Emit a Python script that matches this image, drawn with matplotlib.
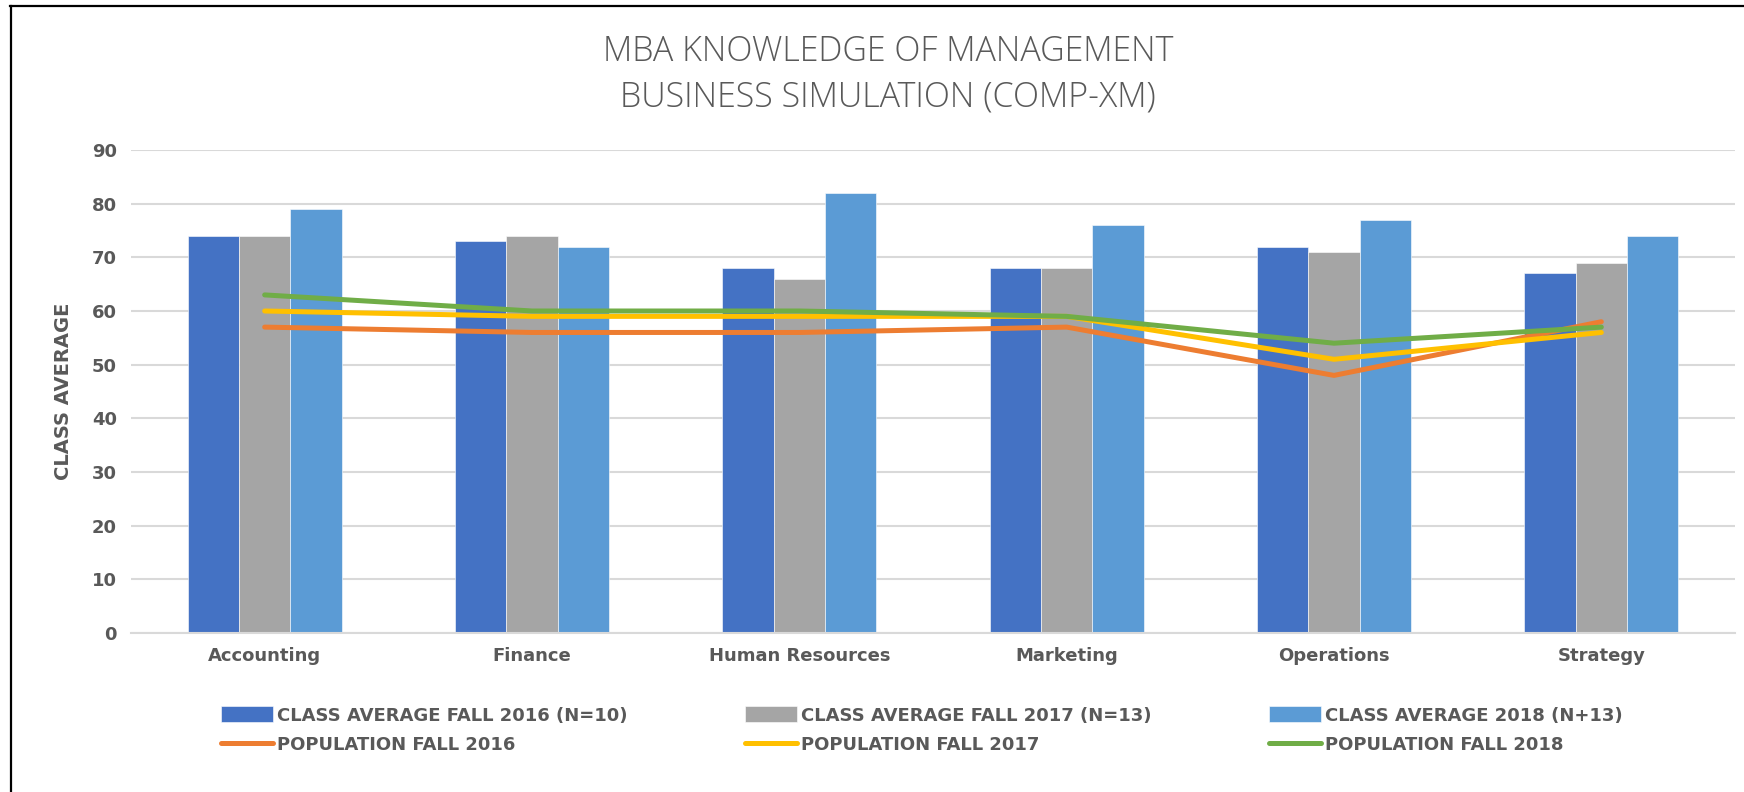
import matplotlib
matplotlib.use("Agg")
import matplotlib.pyplot as plt
import numpy as np
from matplotlib.lines import Line2D

categories = ["Accounting", "Finance", "Human Resources", "Marketing", "Operations", "Strategy"]
class_2016 = [74, 73, 68, 68, 72, 67]
class_2017 = [74, 74, 66, 68, 71, 69]
class_2018 = [79, 72, 82, 76, 77, 74]
pop_2016 = [57, 56, 56, 57, 48, 58]
pop_2017 = [60, 59, 59, 59, 51, 56]
pop_2018 = [63, 60, 60, 59, 54, 57]
yticks = [0, 10, 20, 30, 40, 50, 60, 70, 80, 90]

bar_labels = ["CLASS AVERAGE FALL 2016 (N=10)", "CLASS AVERAGE FALL 2017 (N=13)", "CLASS AVERAGE 2018 (N+13)"]
line_labels = ["POPULATION FALL 2016", "POPULATION FALL 2017", "POPULATION FALL 2018"]

TXT = "#595959"
W, H = 1744, 792
fig = plt.figure(figsize=(W / 100, H / 100), dpi=100)
ax = fig.add_axes([131 / W, 1 - 633 / H, (1735 - 131) / W, (633 - 150) / H])

x = np.arange(len(categories))
w = 0.192
bar_colors = ["#4472C4", "#A5A5A5", "#5B9BD5"]
bars = []
for i, (vals, c, lab) in enumerate(zip([class_2016, class_2017, class_2018], bar_colors, bar_labels)):
    b = ax.bar(x + (i - 1) * w, vals, width=w, color=c, edgecolor="white", linewidth=0.4, label=lab, zorder=2)
    bars.append(b)

line_colors = ["#ED7D31", "#FFC000", "#70AD47"]
lines = []
for vals, c, lab in zip([pop_2016, pop_2017, pop_2018], line_colors, line_labels):
    l, = ax.plot(x, vals, color=c, linewidth=3.6, solid_capstyle="round", label=lab, zorder=3)
    lines.append(l)

ax.set_xlim(-0.5, len(categories) - 0.5)
ax.set_ylim(0, 90)
ax.set_yticks(yticks)
ax.set_xticks(x)
ax.set_xticklabels(categories)
ax.yaxis.grid(True, color="#d9d9d9", linewidth=1.5, zorder=0)
ax.set_axisbelow(True)
for s in ["top", "right", "left"]:
    ax.spines[s].set_visible(False)
ax.spines["bottom"].set_color("#d9d9d9")
ax.spines["bottom"].set_linewidth(1.5)
ax.tick_params(axis="both", length=0, labelsize=13, labelcolor=TXT, pad=10)
for t in ax.get_xticklabels() + ax.get_yticklabels():
    t.set_fontweight("bold")
ax.set_ylabel("CLASS AVERAGE", fontsize=14, fontweight="bold", color=TXT, labelpad=14)

fig.text(888 / W, 1 - 52 / H, "MBA KNOWLEDGE OF MANAGEMENT", ha="center", va="center",
         fontsize=24.5, color=TXT, family=["Open Sans", "DejaVu Sans"], fontweight="light")
fig.text(888 / W, 1 - 97 / H, "BUSINESS SIMULATION (COMP-XM)", ha="center", va="center",
         fontsize=24.5, color=TXT, family=["Open Sans", "DejaVu Sans"], fontweight="light")

handles = [bars[0], lines[0], bars[1], lines[1], bars[2], lines[2]]
labels = [bar_labels[0], line_labels[0], bar_labels[1], line_labels[1], bar_labels[2], line_labels[2]]
leg = fig.legend(handles, labels, loc="center left", bbox_to_anchor=(212 / W, 1 - 730 / H), ncol=3,
                 frameon=False, prop={"weight": "bold", "size": 13},
                 handlelength=2.9, handleheight=1.0, handletextpad=0.2, columnspacing=6.5,
                 labelspacing=0.6, borderpad=0)
for t in leg.get_texts():
    t.set_color(TXT)

fig.add_artist(Line2D([10 / W, 1], [1 - 6 / H, 1 - 6 / H], transform=fig.transFigure, color="black", linewidth=1.6))
fig.add_artist(Line2D([11 / W, 11 / W], [0, 1 - 6 / H], transform=fig.transFigure, color="black", linewidth=1.6))

fig.savefig("out.png", dpi=100)
